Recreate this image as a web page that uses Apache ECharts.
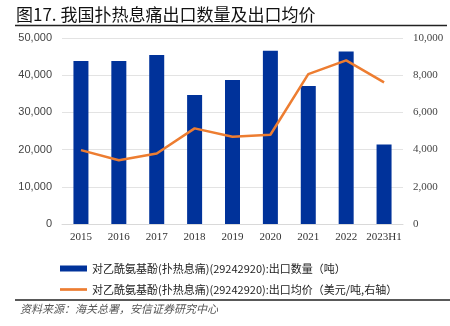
<!DOCTYPE html>
<html><head><meta charset="utf-8">
<script src="https://cdn.jsdelivr.net/npm/echarts@6/dist/echarts.min.js"></script>
<style>html,body{margin:0;padding:0;background:#fff}#c{width:450px;height:326px}</style>
</head><body><div id="c"></div>
<script>
const categories = ['2015','2016','2017','2018','2019','2020','2021','2022','2023H1'];
const quantity = [43800, 43850, 45400, 34700, 38700, 46600, 37100, 46400, 21400];
const price = [3970, 3430, 3790, 5140, 4690, 4800, 8060, 8800, 7610];
const leftTicks = [0, 10000, 20000, 30000, 40000, 50000];
const rightTicks = [0, 2000, 4000, 6000, 8000, 10000];
const nameQty = '对乙酰氨基酚(扑热息痛)(29242920):出口数量（吨）';
const namePrice = '对乙酰氨基酚(扑热息痛)(29242920):出口均价（美元/吨,右轴）';
const fmt = v => v.toLocaleString('en-US');
const chart = echarts.init(document.getElementById('c'));
chart.setOption({
  animation: false,
  grid: {left: 62, right: 47, top: 38, bottom: 102},
  graphic: [
    {type:'text', left: 16, top: 6, style:{text:'图17. 我国扑热息痛出口数量及出口均价', font:'400 17px "Noto Sans CJK SC"', fill:'#111'}},
    {type:'line', shape:{x1:15,y1:25.5,x2:447,y2:25.5}, style:{stroke:'#222', lineWidth:1.5}},
    {type:'line', shape:{x1:15,y1:300,x2:450,y2:300}, style:{stroke:'#222', lineWidth:1.5}},
    {type:'text', left: 20, top: 303, style:{text:'资料来源：海关总署，安信证券研究中心', font:'italic 11px "Noto Sans CJK SC"', fill:'#555'}}
  ],
  legend: {
    orient: 'vertical', left: 55, top: 258, itemGap: 10, itemWidth: 27, itemHeight: 6,
    textStyle: {fontFamily: '"Noto Sans CJK SC"', fontSize: 11, color: '#222'},
    data: [{name: nameQty, icon: 'rect'}, {name: namePrice, icon: 'path://M0,0H30V3H0Z'}]
  },
  xAxis: {
    type: 'category', data: categories,
    axisLine: {lineStyle: {color: '#d9d9d9'}},
    axisTick: {show: false},
    axisLabel: {color: '#333', fontFamily: '"Liberation Serif"', fontSize: 11, margin: 8, interval: 0}
  },
  yAxis: [
    {type:'value', min: leftTicks[0], max: leftTicks[leftTicks.length-1], interval: 10000,
     axisLabel:{color:'#444', fontFamily:'"Liberation Sans"', fontSize: 11, margin: 10, formatter: fmt},
     splitLine:{lineStyle:{color:'#e3e3e3'}}, axisLine:{show:false}, axisTick:{show:false}},
    {type:'value', min: rightTicks[0], max: rightTicks[rightTicks.length-1], interval: 2000,
     axisLabel:{color:'#444', fontFamily:'"Liberation Serif"', fontSize: 11, margin: 10, formatter: fmt},
     splitLine:{show:false}, axisLine:{show:false}, axisTick:{show:false}}
  ],
  series: [
    {name: nameQty, type:'bar', data: quantity, barWidth: 15, itemStyle:{color:'#00329A'}},
    {name: namePrice, type:'line', yAxisIndex: 1, data: price, symbol:'none',
     lineStyle:{color:'#ED7D31', width: 2.5}, itemStyle:{color:'#ED7D31'}}
  ]
});
</script></body></html>
